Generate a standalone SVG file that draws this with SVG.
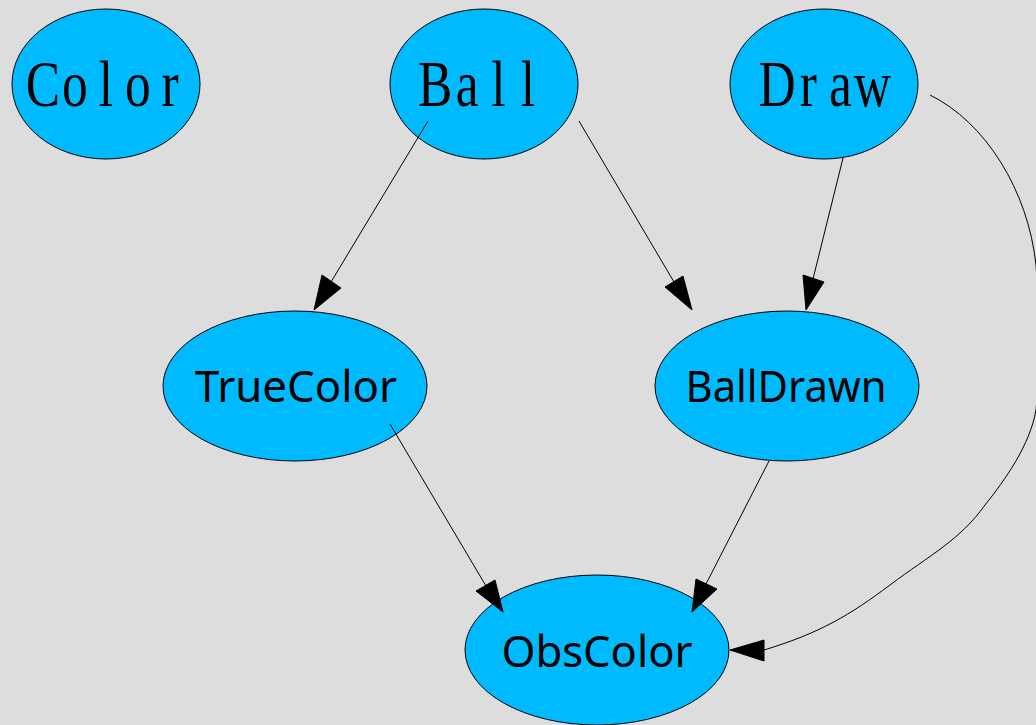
<svg xmlns="http://www.w3.org/2000/svg" width="1036" height="725" viewBox="0 0 1036 725">
  <style>
    .node ellipse { fill: #00baff; stroke: #000; stroke-width: 1; }
    .serif { font-family: "Liberation Serif", "DejaVu Serif", serif; font-size: 66px; fill: #000; text-anchor: middle; }
    .sans { font-family: "Noto Sans", "Open Sans", sans-serif; font-size: 44px; fill: #000; text-anchor: middle; }
    .edge line, .edge path { fill: none; stroke: #000; stroke-width: 1; }
    .edge polygon { fill: #000; stroke: #000; stroke-width: 1; }
  </style>
  <rect width="1036" height="725" fill="#dddddd"/>

  <!-- nodes (top row labels: narrowed serif glyphs on a ~32px character grid) -->
  <g id="node-Color" class="node">
    <ellipse cx="106" cy="84" rx="94" ry="75"/>
    <text class="serif" transform="translate(106,0) scale(0.78,1)" x="-81 -40 0 41 82" y="106">Color</text>
  </g>
  <g id="node-Ball" class="node">
    <ellipse cx="484" cy="84" rx="94" ry="75"/>
    <text class="serif" transform="translate(482,0) scale(0.78,1)" x="-60 -19 21 59" y="106">Ball</text>
  </g>
  <g id="node-Draw" class="node">
    <ellipse cx="824" cy="84" rx="94" ry="75"/>
    <text class="serif" transform="translate(824,0) scale(0.78,1)" x="-60 -20 21 62" y="106">Draw</text>
  </g>
  <g id="node-TrueColor" class="node">
    <ellipse cx="295" cy="386" rx="132" ry="75"/>
    <text class="sans" x="296" y="402" textLength="202" lengthAdjust="spacingAndGlyphs">TrueColor</text>
  </g>
  <g id="node-BallDrawn" class="node">
    <ellipse cx="787" cy="386" rx="132" ry="75"/>
    <text class="sans" x="786" y="402" textLength="201" lengthAdjust="spacingAndGlyphs">BallDrawn</text>
  </g>
  <g id="node-ObsColor" class="node">
    <ellipse cx="597" cy="650" rx="132" ry="75"/>
    <text class="sans" x="597" y="667" textLength="191" lengthAdjust="spacingAndGlyphs">ObsColor</text>
  </g>

  <!-- connectors -->
  <g id="edges" class="edge">
    <!-- Ball -> TrueColor -->
    <line x1="428" y1="121" x2="331" y2="282"/>
    <polygon points="314,310 322,275 341,288"/>
    <!-- Ball -> BallDrawn -->
    <line x1="579" y1="121" x2="674" y2="282"/>
    <polygon points="692,310 665,287 683,276"/>
    <!-- Draw -> BallDrawn -->
    <line x1="843" y1="158" x2="813" y2="279"/>
    <polygon points="806,310 803,275 824,282"/>
    <!-- TrueColor -> ObsColor -->
    <line x1="390" y1="424" x2="486" y2="586"/>
    <polygon points="503,612 476,591 495,580"/>
    <!-- BallDrawn -> ObsColor -->
    <line x1="769" y1="461" x2="706" y2="584"/>
    <polygon points="692,612 696,579 717,589"/>
    <!-- Draw -> ObsColor -->
    <path d="M930,95 C985,122 1028,190 1036,265 C1040,320 1040,370 1036,410 C1030,445 1005,480 985,505 C960,540 930,555 890,585 C850,615 820,633 764,650"/>
    <polygon points="730,650 764,640 764,661"/>
  </g>
</svg>
